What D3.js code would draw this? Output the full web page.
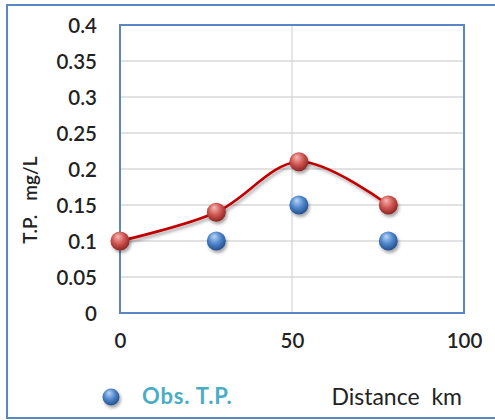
<!DOCTYPE html>
<html>
<head>
<meta charset="utf-8">
<script src="https://cdn.jsdelivr.net/npm/d3@7"></script>
<style>
  html, body { margin: 0; padding: 0; background: #fff; }
  svg { display: block; }
  text { font-family: Lato, "Open Sans", sans-serif; }
</style>
</head>
<body>
<svg id="chart" width="495" height="420"></svg>
<script>
// Total phosphorus along the river
const distanceModel = [0, 28, 52, 78];
const tpModel = [0.1, 0.14, 0.21, 0.15];
const distanceObs = [28, 52, 78];
const tpObs = [0.1, 0.15, 0.1];
const yTicks = [0, 0.05, 0.1, 0.15, 0.2, 0.25, 0.3, 0.35, 0.4];
const xTicks = [0, 50, 100];
const legendLabel = "Obs. T.P.";
const xTitle = "Distance  km";
const yTitle = "T.P.   mg/L";

const svg = d3.select("#chart");
const plot = { left: 120, top: 25, right: 464, bottom: 313 };

const x = d3.scaleLinear().domain([0, 100]).range([plot.left, plot.right]);
const y = d3.scaleLinear().domain([0, 0.4]).range([plot.bottom, plot.top]);

const defs = svg.append("defs");
function sphere(id, light, mid, dark) {
  const g = defs.append("radialGradient").attr("id", id)
    .attr("cx", "0.45").attr("cy", "0.4").attr("r", "0.6")
    .attr("fx", "0.38").attr("fy", "0.25");
  g.append("stop").attr("offset", "0%").attr("stop-color", light);
  g.append("stop").attr("offset", "55%").attr("stop-color", mid);
  g.append("stop").attr("offset", "100%").attr("stop-color", dark);
}
sphere("redBall", "#f6b9b7", "#cf5652", "#8c2523");
sphere("blueBall", "#b9d6f6", "#4e86cc", "#244f8c");

const shadow = defs.append("filter").attr("id", "shadow")
  .attr("x", "-50%").attr("y", "-50%").attr("width", "200%").attr("height", "200%");
shadow.append("feDropShadow").attr("dx", 1.5).attr("dy", 2.5)
  .attr("stdDeviation", 1.6).attr("flood-color", "#000").attr("flood-opacity", 0.35);

// Outer frame
svg.append("rect").attr("x", 7).attr("y", 5).attr("width", 495).attr("height", 413)
  .attr("fill", "none").attr("stroke", "#5a87c2").attr("stroke-width", 2);

// Gridlines
svg.append("g").selectAll("line").data(yTicks.slice(1, -1)).join("line")
  .attr("x1", plot.left).attr("x2", plot.right)
  .attr("y1", d => y(d)).attr("y2", d => y(d))
  .attr("stroke", "#d9d9d9").attr("stroke-width", 1.3);
svg.append("g").selectAll("line").data(xTicks.slice(1, -1)).join("line")
  .attr("y1", plot.top).attr("y2", plot.bottom)
  .attr("x1", d => x(d)).attr("x2", d => x(d))
  .attr("stroke", "#d9d9d9").attr("stroke-width", 1.3);

// Plot area border
svg.append("rect").attr("x", plot.left).attr("y", plot.top)
  .attr("width", plot.right - plot.left).attr("height", plot.bottom - plot.top)
  .attr("fill", "none").attr("stroke", "#5a87c2").attr("stroke-width", 2);

// Axes (labels only)
const yAxis = svg.append("g").attr("transform", `translate(${plot.left - 23},0)`)
  .call(d3.axisLeft(y).tickValues(yTicks).tickSize(0).tickPadding(0).tickFormat(d => String(+d.toFixed(2))));
const xAxis = svg.append("g").attr("transform", `translate(0,${plot.bottom + 20})`)
  .call(d3.axisBottom(x).tickValues(xTicks).tickSize(0).tickPadding(0).tickFormat(d3.format("d")));
[yAxis, xAxis].forEach(a => {
  a.select(".domain").remove();
  a.selectAll("text").attr("font-size", 20.5).attr("font-weight", 600).attr("fill", "#222")
    .style("font-family", "Lato, 'Open Sans', sans-serif");
});
yAxis.selectAll("text").attr("dy", "0.35em");
xAxis.selectAll("text").attr("dy", "0.72em");

// Axis titles
svg.append("text").attr("transform", `translate(37,200) rotate(-90)`)
  .attr("text-anchor", "middle").attr("font-size", 19).attr("font-weight", 600).attr("fill", "#222")
  .style("white-space", "pre").text(yTitle);
svg.append("text").attr("x", 462).attr("y", 405).attr("text-anchor", "end")
  .attr("font-size", 23).attr("fill", "#222").style("white-space", "pre").text(xTitle);

// Modelled curve
const line = d3.line().x((d, i) => x(distanceModel[i])).y(d => y(d))
  .curve(d3.curveCatmullRom.alpha(0.5));
svg.append("path").datum(tpModel).attr("d", line)
  .attr("fill", "none").attr("stroke", "#c00000").attr("stroke-width", 2.6)
  .attr("filter", "url(#shadow)");

svg.append("g").selectAll("circle").data(tpModel).join("circle")
  .attr("cx", (d, i) => x(distanceModel[i])).attr("cy", d => y(d)).attr("r", 9.5)
  .attr("fill", "url(#redBall)").attr("filter", "url(#shadow)");

// Observations
svg.append("g").selectAll("circle").data(tpObs).join("circle")
  .attr("cx", (d, i) => x(distanceObs[i])).attr("cy", d => y(d)).attr("r", 9.5)
  .attr("fill", "url(#blueBall)").attr("filter", "url(#shadow)");

// Legend
svg.append("circle").attr("cx", 111).attr("cy", 397).attr("r", 8.5)
  .attr("fill", "url(#blueBall)").attr("filter", "url(#shadow)");
svg.append("text").attr("x", 142).attr("y", 404).attr("font-size", 22).attr("font-weight", 700)
  .attr("letter-spacing", 0.8).attr("fill", "#4bacc6").text(legendLabel);
</script>
</body>
</html>
